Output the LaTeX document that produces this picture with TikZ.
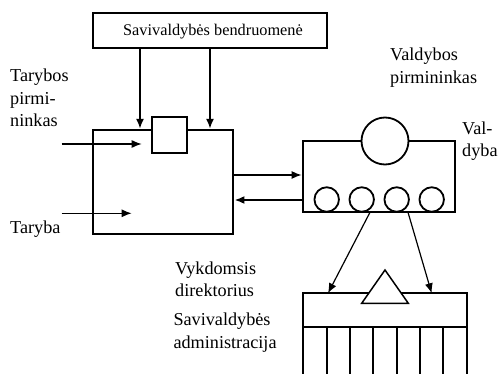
\documentclass[tikz,border=0pt]{standalone}
\usepackage{fontspec}
\setmainfont{Liberation Serif}
\usetikzlibrary{arrows.meta}
\begin{document}
\begin{tikzpicture}[x=1pt,y=-1pt,
  boxline/.style={line width=2.2pt},
  thickarrow/.style={line width=2.4pt,-{Latex[length=10pt,width=8pt]}},
  thinarrow/.style={line width=1.2pt,-{Latex[length=10pt,width=8pt]}},
  lbl/.style={inner sep=0pt,anchor=base west,align=left,font=\fontsize{18.2}{22.5}\selectfont},
  circ/.style={circle,draw,line width=1.8pt,fill=white,inner sep=0pt}
]
\useasboundingbox (0,0) rectangle (499,374);
\fill[white] (0,0) rectangle (499,374);

% top box
\node[draw,boxline,minimum width=234pt,minimum height=35pt,inner sep=0pt] (top) at (209.7,30.8) {};
\node[inner sep=0pt,anchor=base,font=\fontsize{16.3}{19}\selectfont] (toptext) at (213,35.7) {Savivaldybės bendruomenė};

% taryba box
\node[draw,boxline,minimum width=140.6pt,minimum height=104.3pt,inner sep=0pt] (taryba) at (163,182.15) {};
\node[draw,boxline,fill=white,minimum width=35pt,minimum height=36.6pt,inner sep=0pt] (sq) at (169.2,135) {};

\coordinate (a1) at (140,0);
\coordinate (a2) at (210,0);
\draw[thickarrow] (top.south -| a1) -- (taryba.north -| a1);
\draw[thickarrow] (top.south -| a2) -- (taryba.north -| a2);

% labels left
\node[lbl] (tp) at (10,126.7) {Tarybos\\pirmi-\\ninkas};
\coordinate (tpa) at (61.7,144);
\coordinate (tpb) at (141.7,144);
\draw[thinarrow] (tpa) -- (tpb);
\node[lbl] (tar) at (10,233.3) {Taryba};
\coordinate (ta) at (61.7,213.3);
\coordinate (tb) at (131.7,213.3);
\draw[thinarrow] (ta) -- (tb);

% valdyba box
\node[draw,boxline,minimum width=152.3pt,minimum height=71.3pt,inner sep=0pt] (valdyba) at (378.85,176.65) {};
\node[circ,minimum size=47pt] (vp) at (385,141) {};
\node[circ,minimum size=24.5pt] (c1) at (326.7,199.5) {};
\node[circ,minimum size=24.5pt] (c2) at (361.7,199.5) {};
\node[circ,minimum size=24.5pt] (c3) at (396.7,199.5) {};
\node[circ,minimum size=24.5pt] (c4) at (431.7,199.5) {};

\node[lbl] (vpl) at (390,83.3) {Valdybos\\pirmininkas};
\node[lbl] (vl) at (462,156.7) {Val-\\dyba};

% arrows between
\coordinate (y1) at (0,175);
\coordinate (y2) at (0,200);
\draw[thinarrow] (taryba.east |- y1) -- (valdyba.west |- y1);
\draw[thickarrow] (valdyba.west |- y2) -- (taryba.east |- y2);

% administration
\coordinate (adtl) at (302.7,293.3);
\coordinate (adbr) at (466.7,385);
\draw[boxline] (adtl) rectangle (adbr);
\coordinate (mid) at (0,326.7);
\draw[boxline] (adtl |- mid) -- (adbr |- mid);
\foreach \xx in {326.7,350,373.3,396.7,420,443.3}{
  \draw[line width=1.8pt] (\xx,326.7) -- (\xx,385);
}
\draw[line width=1.5pt,fill=white,line join=miter] (385,270) -- (408.3,303.3) -- (361.7,303.3) -- cycle;

\coordinate (s1) at (370,212.3);
\coordinate (e1) at (328,293.3);
\coordinate (s2) at (408,212.3);
\coordinate (e2) at (431.7,293.3);
\draw[thinarrow] (s1) -- (e1);
\draw[thinarrow] (s2) -- (e2);

\node[lbl] (vd) at (175,296.7) {Vykdomsis\\direktorius};
\node[lbl] (sa) at (173.3,348.3) {Savivaldybės\\administracija};
\end{tikzpicture}
\end{document}
